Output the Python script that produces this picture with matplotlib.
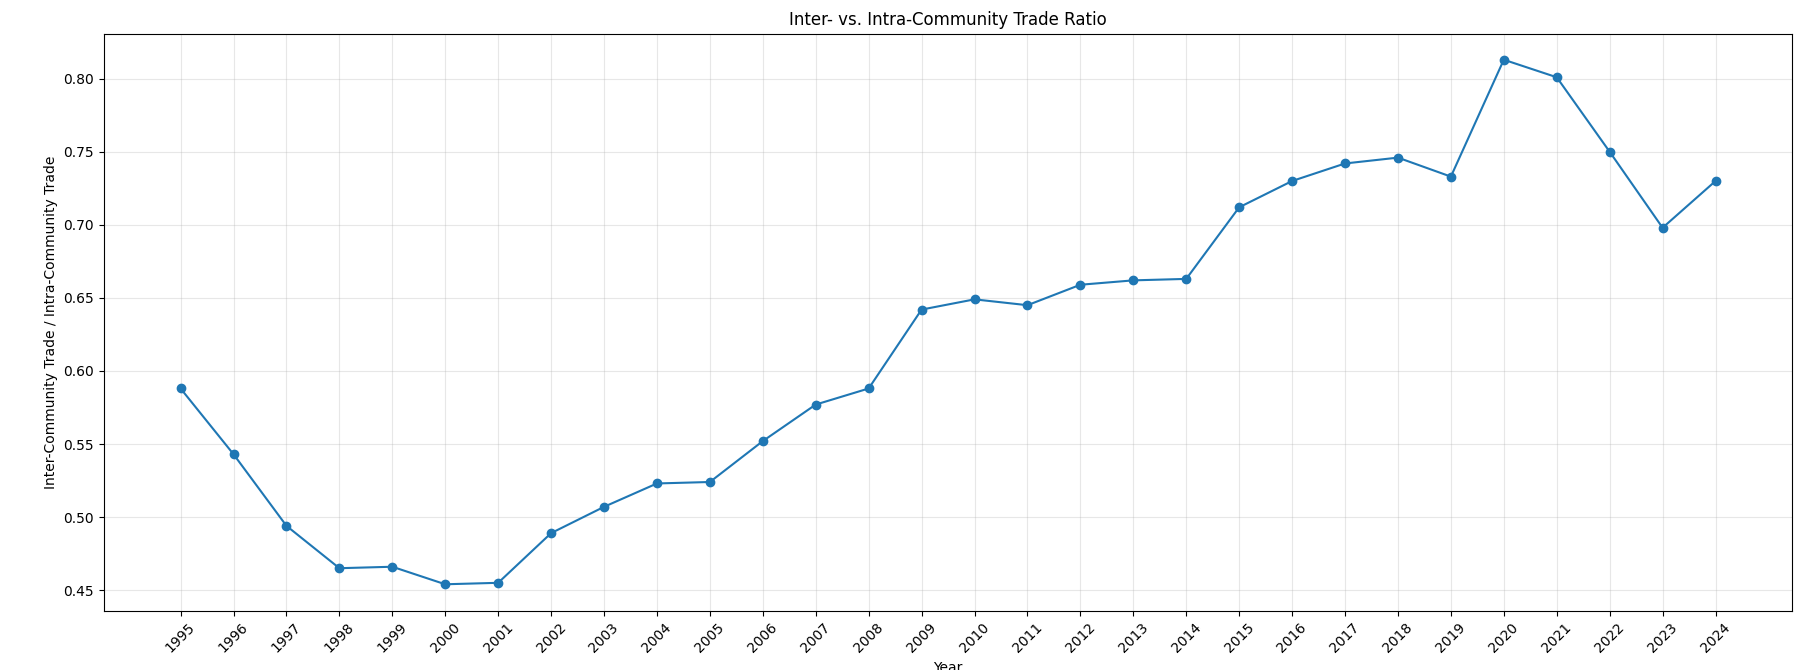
import matplotlib
matplotlib.use("Agg")
import matplotlib.pyplot as plt

years = list(range(1995, 2025))
ratio = [0.588, 0.543, 0.494, 0.465, 0.466, 0.454, 0.455, 0.489, 0.507, 0.523,
         0.524, 0.552, 0.577, 0.588, 0.642, 0.649, 0.645, 0.659, 0.662, 0.663,
         0.712, 0.730, 0.742, 0.746, 0.733, 0.813, 0.801, 0.750, 0.698, 0.730]

fig, ax = plt.subplots(figsize=(18.06, 6.7), dpi=100)
ax.plot(years, ratio, marker="o")
ax.set_title("Inter- vs. Intra-Community Trade Ratio")
ax.set_xlabel("Year")
ax.set_ylabel("Inter-Community Trade / Intra-Community Trade")
ax.set_xticks(years)
ax.set_xticklabels([str(y) for y in years], rotation=45)
ax.grid(True, alpha=0.3)

fig.subplots_adjust(left=0.0575, right=0.9924, top=0.950, bottom=0.0888)
fig.savefig("out.png")
